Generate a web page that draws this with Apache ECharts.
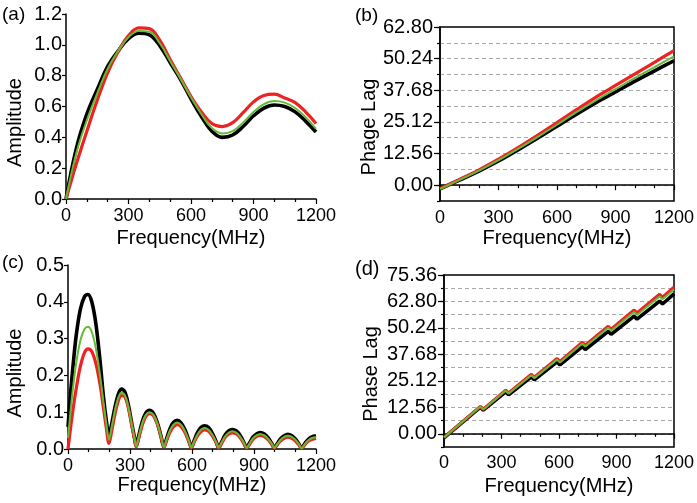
<!DOCTYPE html>
<html><head><meta charset="utf-8">
<script src="https://cdn.jsdelivr.net/npm/echarts@6/dist/echarts.min.js"></script>
<style>html,body{margin:0;padding:0;background:#fff}#c{width:697px;height:503px}</style>
</head><body><div id="c"></div>
<script>
// ---------- DATA ----------
// (a) amplitude
const freqA = [0,50,100,150,200,250,300,350,400,450,500,550,600,650,700,750,800,850,900,950,1000,1050,1100,1150,1200];
const ampA_black = [0,0.33,0.55,0.71,0.86,0.96,1.04,1.075,1.065,0.995,0.885,0.775,0.65,0.535,0.44,0.40,0.415,0.47,0.54,0.59,0.61,0.60,0.565,0.505,0.435];
const ampA_green = [0,0.30,0.51,0.685,0.845,0.96,1.05,1.09,1.085,1.01,0.895,0.78,0.66,0.55,0.46,0.425,0.44,0.495,0.565,0.615,0.635,0.625,0.59,0.53,0.455];
const ampA_red   = [0,0.23,0.44,0.64,0.82,0.955,1.06,1.11,1.105,1.03,0.905,0.785,0.665,0.565,0.49,0.47,0.495,0.56,0.63,0.672,0.68,0.655,0.625,0.565,0.49];

// (b) phase lag
const freqB = [0,100,200,300,400,500,600,700,800,900,1000,1100,1200];
const phaseB_black = [-1.5,2.0,5.6,9.6,14.0,18.6,23.4,28.2,32.8,37.0,41.3,45.4,49.4];
const phaseB_green = [-1.5,2.1,5.8,9.9,14.4,19.1,24.0,29.0,33.7,38.1,42.6,46.9,51.1];
const phaseB_red   = [-1.4,2.3,6.1,10.3,14.9,19.8,24.9,30.0,35.0,39.6,44.2,48.8,53.4];

// (c) amplitude
const freqC = [0,12,25,40,60,80,97,115,135,155,172,186,198,
  212,228,243,258,275,292,310,322,330,
  344,360,376,394,413,432,450,464,
  478,494,510,528,547,566,584,597,
  611,627,643,661,680,699,717,729,
  744,760,777,795,815,834,852,864,
  879,895,912,930,950,969,987,998,
  1013,1029,1046,1064,1083,1102,1119,1130,
  1145,1162,1180,1200];
const ampC_black = [0.06,0.15,0.23,0.31,0.38,0.414,0.42,0.40,0.34,0.24,0.14,0.075,0.035,
  0.07,0.115,0.148,0.163,0.155,0.12,0.065,0.03,0.008,
  0.04,0.075,0.097,0.105,0.097,0.072,0.035,0.006,
  0.03,0.056,0.072,0.078,0.071,0.052,0.025,0.005,
  0.024,0.045,0.058,0.063,0.058,0.042,0.02,0.004,
  0.02,0.038,0.049,0.053,0.049,0.036,0.017,0.004,
  0.017,0.032,0.041,0.045,0.041,0.03,0.014,0.003,
  0.015,0.028,0.036,0.040,0.036,0.026,0.012,0.003,
  0.014,0.026,0.033,0.036];
const ampC_green = [0.03,0.10,0.17,0.235,0.295,0.326,0.332,0.318,0.273,0.20,0.125,0.065,0.025,
  0.062,0.107,0.139,0.153,0.146,0.113,0.061,0.028,0.007,
  0.037,0.071,0.092,0.100,0.093,0.069,0.034,0.005,
  0.027,0.051,0.066,0.072,0.066,0.048,0.023,0.004,
  0.021,0.04,0.052,0.057,0.052,0.038,0.018,0.004,
  0.018,0.034,0.044,0.048,0.044,0.032,0.015,0.003,
  0.015,0.029,0.037,0.041,0.037,0.027,0.013,0.003,
  0.013,0.025,0.033,0.036,0.033,0.024,0.011,0.002,
  0.012,0.023,0.03,0.032];
const ampC_red = [0.0,0.055,0.11,0.165,0.225,0.262,0.272,0.265,0.232,0.175,0.11,0.055,0.015,
  0.05,0.097,0.13,0.145,0.142,0.111,0.06,0.027,0.006,
  0.033,0.066,0.088,0.097,0.091,0.068,0.033,0.005,
  0.024,0.046,0.06,0.066,0.061,0.045,0.021,0.004,
  0.019,0.036,0.047,0.052,0.048,0.035,0.017,0.003,
  0.016,0.031,0.04,0.044,0.041,0.03,0.014,0.003,
  0.013,0.026,0.034,0.037,0.034,0.025,0.012,0.002,
  0.012,0.022,0.029,0.032,0.029,0.021,0.010,0.002,
  0.011,0.021,0.026,0.029];

// (d) phase lag
const freqD = [0,190,205,322,337,456,471,590,605,722,737,857,872,992,1007,1125,1140,1200];
const phaseD_black = [-1.9,12.6,11.2,19.9,18.5,27.0,25.6,34.1,32.7,41.4,40.0,48.6,47.2,55.8,54.4,63.0,61.6,66.4];
const phaseD_green = [-1.8,12.9,11.5,20.5,19.1,27.8,26.4,35.2,33.8,42.8,41.4,50.3,48.9,57.8,56.4,65.2,63.8,68.5];
const phaseD_red   = [-1.8,13.0,11.6,20.7,19.3,28.2,26.8,35.7,34.3,43.4,42.0,51.0,49.6,58.7,57.3,66.2,64.8,69.6];

// tick labels
const xTicks = [0,300,600,900,1200];
const phaseTicksB = [0,12.56,25.12,37.68,50.24,62.80];
const phaseTicksD = [0,12.56,25.12,37.68,50.24,62.80,75.36];
const panelLabels = ['(a)','(b)','(c)','(d)'];

// ---------- CHART ----------
const FONT = 'Liberation Sans, Arial, sans-serif';
const BLACK = '#000000', GREEN = '#62bb35', RED = '#ee2222';
const pairs = (xs, ys) => xs.map((x, i) => [x, ys[i]]);
const axLine = {show: true, lineStyle: {color: '#000', width: 1.5}};
const tickStyle = {color: '#000', width: 1.2};

function xAx(g, gap, margin) {
  return {
    gridIndex: g, type: 'value', min: 0, max: 1200, interval: 300,
    axisLine: axLine,
    axisTick: {show: true, length: 5, lineStyle: tickStyle},
    minorTick: {show: true, splitNumber: 3, length: 3, lineStyle: tickStyle},
    axisLabel: {fontSize: 18, fontFamily: FONT, color: '#000', margin: margin,
      formatter: v => xTicks.includes(v) ? String(v) : ''},
    splitLine: {show: false},
    name: 'Frequency(MHz)', nameLocation: 'middle', nameGap: gap,
    nameTextStyle: {fontSize: 20, fontFamily: FONT, color: '#000'}
  };
}
function phaseAxes(g, max, ticks, name, gap) {
  const main = {
    gridIndex: g, type: 'value', min: -6.28, max: max, interval: 6.28,
    axisLine: axLine,
    axisTick: {show: true, length: 3, lineStyle: tickStyle},
    axisLabel: {fontSize: 20, fontFamily: FONT, color: '#000', margin: 7,
      formatter: v => { const t = ticks.find(k => Math.abs(k - v) < 1e-3); return t === undefined ? '' : t.toFixed(2); }},
    splitLine: {show: true, showMinLine: false, showMaxLine: false,
      lineStyle: {type: [4, 3], color: '#a8a8a8', width: 1}},
    name: name, nameLocation: 'middle', nameGap: gap,
    nameTextStyle: {fontSize: 20, fontFamily: FONT, color: '#000', padding: [0, 26, 0, 0]}
  };
  const longTicks = {
    gridIndex: g, type: 'value', min: -6.28, max: max, position: 'left',
    axisLine: {show: false}, axisLabel: {show: false}, splitLine: {show: false},
    axisTick: {show: true, length: 6, lineStyle: tickStyle, customValues: ticks}
  };
  return [main, longTicks];
}
function ampAxis(g, max, gap) {
  return {
    gridIndex: g, type: 'value', min: 0, max: max, interval: max > 1 ? 0.2 : 0.1,
    axisLine: axLine,
    axisTick: {show: true, length: 4, lineStyle: tickStyle},
    axisLabel: {fontSize: 20, fontFamily: FONT, color: '#000', margin: 4, formatter: v => v.toFixed(1)},
    splitLine: {show: false},
    name: 'Amplitude', nameLocation: 'middle', nameGap: gap,
    nameTextStyle: {fontSize: 20, fontFamily: FONT, color: '#000', padding: [0, 32, 0, 0]}
  };
}
function lines(xi, yi, xs, b, gr, r, smooth) {
  const mk = (d, c, w) => ({type: 'line', xAxisIndex: xi, yAxisIndex: yi, data: pairs(xs, d),
    symbol: 'none', smooth: smooth, lineStyle: {color: c, width: w}, itemStyle: {color: c}});
  return [mk(b, BLACK, 3.6), mk(r, RED, 3.2), mk(gr, GREEN, 2)];
}

const [yB, yB2] = phaseAxes(1, 62.8, phaseTicksB, 'Phage Lag', 60);
const [yD, yD2] = phaseAxes(3, 75.36, phaseTicksD, 'Phase Lag', 63);

const option = {
  animation: false,
  backgroundColor: '#fff',
  grid: [
    {left: 66, top: 14, width: 250, height: 185, outerBoundsMode: 'none'},
    {left: 440, top: 27, width: 234, height: 174, show: true, borderColor: '#000', borderWidth: 1.5, outerBoundsMode: 'none'},
    {left: 68, top: 265, width: 248, height: 184, outerBoundsMode: 'none'},
    {left: 444, top: 275, width: 230, height: 172, show: true, borderColor: '#000', borderWidth: 1.5, outerBoundsMode: 'none'}
  ],
  xAxis: [xAx(0, 29, 8), xAx(1, 27, 8), xAx(2, 25, 8), xAx(3, 29, 7)],
  yAxis: [ampAxis(0, 1.2, 41), yB, yB2, ampAxis(2, 0.5, 43), yD, yD2],
  series: [
    ...lines(0, 0, freqA, ampA_black, ampA_green, ampA_red, 0.4),
    ...lines(1, 1, freqB, phaseB_black, phaseB_green, phaseB_red, 0.3),
    ...lines(2, 3, freqC, ampC_black, ampC_green, ampC_red, 0.35),
    ...lines(3, 4, freqD, phaseD_black, phaseD_green, phaseD_red, false)
  ],
  graphic: [
    {type: 'text', left: 2, top: 5, style: {text: panelLabels[0], fontSize: 19, fontFamily: FONT, fill: '#000'}},
    {type: 'text', left: 355, top: 6, style: {text: panelLabels[1], fontSize: 19, fontFamily: FONT, fill: '#000'}},
    {type: 'text', left: 2, top: 253, style: {text: panelLabels[2], fontSize: 19, fontFamily: FONT, fill: '#000'}},
    {type: 'text', left: 355, top: 259, style: {text: panelLabels[3], fontSize: 20, fontFamily: FONT, fill: '#000'}}
  ]
};
const chart = echarts.init(document.getElementById('c'), null, {renderer: 'canvas'});
chart.setOption(option);
</script>
</body></html>
